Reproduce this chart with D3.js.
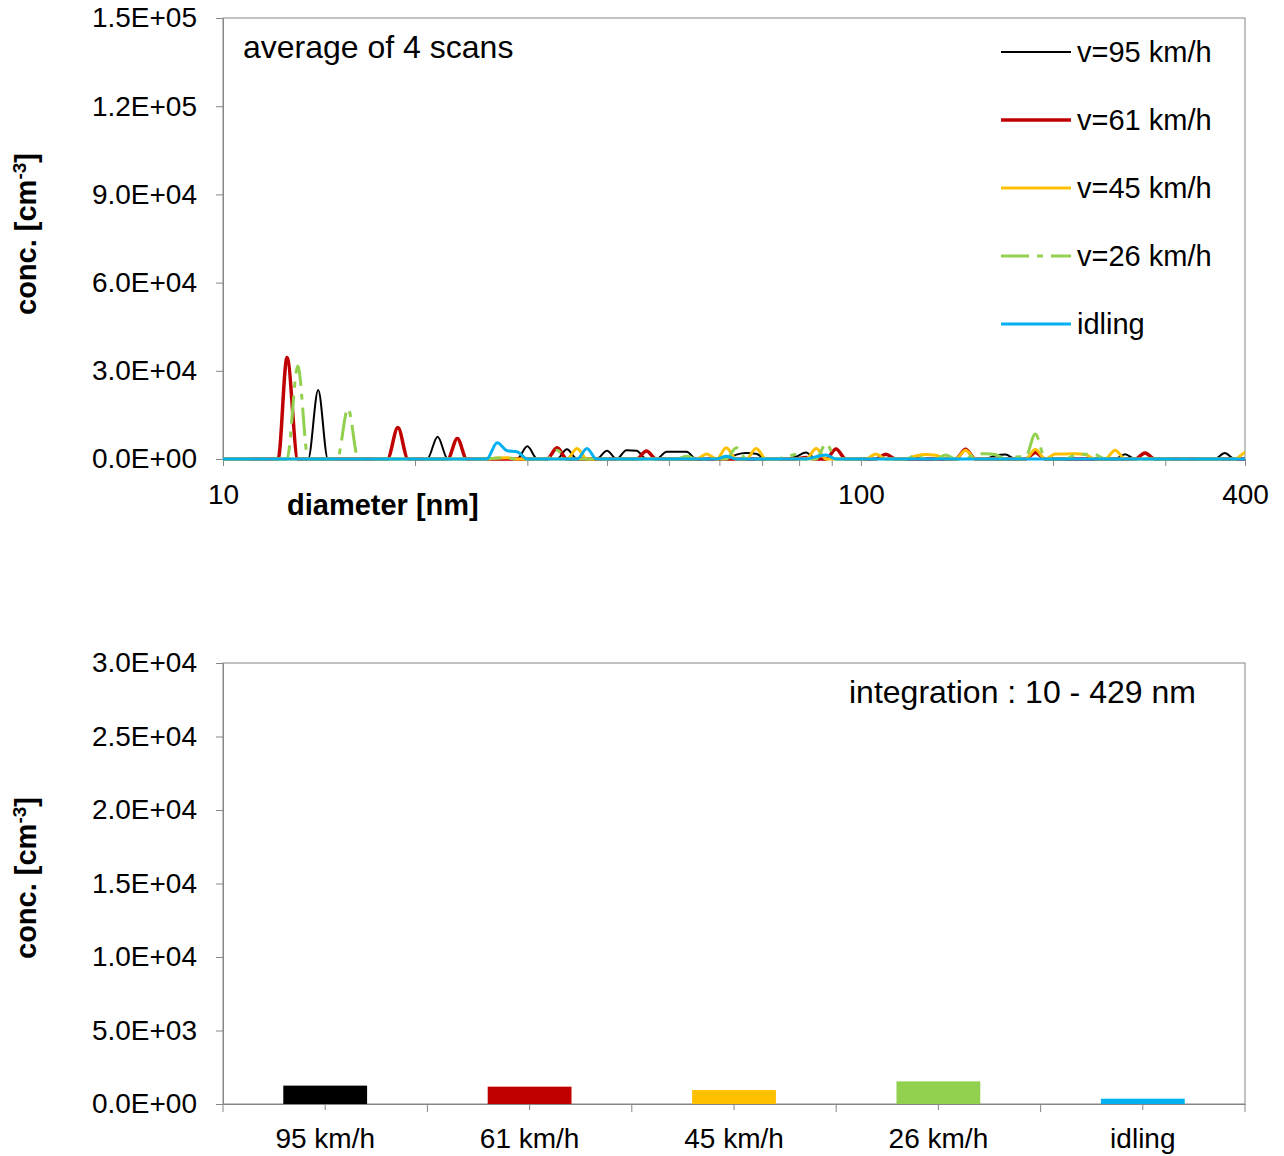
<!DOCTYPE html>
<html>
<head>
<meta charset="utf-8">
<script src="https://cdn.jsdelivr.net/npm/d3@7"></script>
<style>
body { margin: 0; background: #fff; }
text { font-family: "Liberation Sans", Arial, sans-serif; fill: #000; }
</style>
</head>
<body>
<script>
// mobility diameters of the scanner channels [nm]
var diameters = [
  10.0, 10.4, 10.7, 11.1, 11.5, 11.8, 12.2, 12.6, 13.1, 13.6,
  14.1, 14.6, 15.1, 15.7, 16.3, 16.8, 17.5, 18.1, 18.8, 19.5,
  20.2, 20.9, 21.7, 22.5, 23.3, 24.1, 25.0, 25.9, 26.9, 27.9,
  28.9, 30.0, 31.1, 32.2, 33.4, 34.6, 35.9, 37.2, 38.5, 40.0,
  41.4, 42.9, 44.5, 46.1, 47.8, 49.6, 51.4, 53.3, 55.2, 57.3,
  59.4, 61.5, 63.8, 66.1, 68.5, 71.0, 73.7, 76.4, 79.1, 82.0,
  85.1, 88.2, 91.4, 94.7, 98.2, 101.8, 105.5, 109.4, 113.4, 117.6,
  121.9, 126.3, 131.0, 135.8, 140.7, 145.9, 151.2, 156.8, 162.5, 168.5,
  174.7, 181.1, 187.7, 194.6, 201.7, 209.1, 216.7, 224.7, 232.9, 241.4,
  250.3, 259.5, 269.0, 278.8, 289.0, 299.6, 310.6, 322.0, 333.8, 346.0,
  358.7, 371.8, 385.4, 399.5, 414.2, 429.4
];

var conc95 = [
  0, 0, 0, 0, 0, 0, 0, 0, 0, 0,
  23500, 0, 0, 0, 0, 0, 0, 0, 0, 0,
  0, 0, 7600, 0, 0, 0, 0, 0, 0, 0,
  0, 4300, 0, 0, 0, 3300, 0, 0, 0, 2800,
  0, 3000, 2800, 0, 0, 2500, 2500, 2500, 0, 0,
  0, 0, 1500, 2000, 1800, 0, 0, 0, 800, 2200,
  0, 0, 0, 0, 0, 0, 0, 0, 0, 0,
  0, 0, 0, 0, 0, 0, 0, 0, 1200, 1500,
  0, 0, 0, 0, 0, 0, 0, 0, 0, 0,
  0, 1600, 0, 0, 0, 0, 0, 0, 0, 0,
  0, 2000, 0, 0, 0, 0
];
var conc61 = [
  0, 0, 0, 0, 0, 0, 0, 34500, 0, 0,
  0, 0, 0, 0, 0, 0, 0, 0, 10700, 0,
  0, 0, 0, 0, 7000, 0, 0, 0, 0, 0,
  0, 0, 0, 0, 3800, 0, 0, 0, 0, 0,
  0, 0, 0, 2700, 0, 0, 0, 0, 0, 0,
  0, 0, 0, 0, 0, 0, 0, 0, 0, 500,
  0, 0, 3400, 0, 0, 0, 0, 1600, 0, 0,
  0, 0, 0, 0, 0, 3300, 0, 0, 0, 0,
  0, 0, 2200, 0, 0, 0, 0, 0, 0, 0,
  0, 0, 0, 2000, 0, 0, 0, 0, 0, 0,
  0, 0, 0, 0, 0, 0
];
var conc45 = [
  0, 0, 0, 0, 0, 0, 0, 0, 0, 0,
  0, 0, 0, 0, 0, 0, 0, 0, 0, 0,
  0, 0, 0, 0, 0, 0, 0, 0, 300, 400,
  0, 0, 0, 0, 0, 0, 3600, 0, 0, 0,
  0, 0, 0, 0, 0, 0, 0, 0, 0, 1700,
  0, 3800, 0, 0, 3600, 0, 0, 0, 0, 0,
  3600, 0, 0, 0, 0, 0, 1700, 0, 0, 0,
  1000, 1500, 1300, 0, 0, 3000, 0, 0, 0, 0,
  0, 0, 3200, 0, 1700, 1700, 1800, 1500, 0, 0,
  3000, 0, 0, 0, 0, 0, 0, 0, 0, 0,
  0, 0, 0, 2200, 3500, 0
];
var conc26 = [
  0, 0, 0, 0, 0, 0, 0, 0, 31600, 0,
  0, 0, 0, 17200, 0, 0, 0, 0, 0, 0,
  0, 0, 0, 0, 0, 0, 0, 0, 300, 300,
  0, 0, 0, 0, 3000, 0, 0, 0, 0, 0,
  0, 0, 0, 0, 0, 0, 0, 900, 0, 0,
  0, 0, 3800, 0, 0, 0, 0, 800, 1500, 0,
  0, 5300, 0, 0, 0, 0, 0, 0, 0, 0,
  1200, 0, 0, 1400, 0, 0, 1700, 1800, 1500, 0,
  700, 800, 8500, 0, 0, 0, 1400, 1600, 1500, 0,
  0, 0, 0, 0, 0, 0, 0, 0, 0, 0,
  0, 0, 0, 0, 0, 0
];
var concIdle = [
  0, 0, 0, 0, 0, 0, 0, 0, 0, 0,
  0, 0, 0, 0, 0, 0, 0, 0, 0, 0,
  0, 0, 0, 0, 0, 0, 0, 0, 5500, 2800,
  2500, 0, 0, 0, 0, 0, 0, 3600, 0, 0,
  0, 0, 0, 0, 0, 0, 0, 0, 0, 0,
  0, 900, 0, 0, 0, 0, 0, 0, 0, 0,
  800, 1400, 0, 0, 0, 0, 0, 0, 0, 0,
  0, 0, 0, 0, 0, 0, 0, 0, 0, 0,
  0, 0, 0, 0, 0, 0, 0, 0, 0, 0,
  0, 0, 0, 0, 0, 0, 0, 0, 0, 0,
  0, 0, 0, 0, 0, 0
];

var seriesNames = ["v=95 km/h", "v=61 km/h", "v=45 km/h", "v=26 km/h", "idling"];
var seriesValues = [conc95, conc61, conc45, conc26, concIdle];
var seriesColors = ["#000000", "#C00000", "#FFC000", "#92D050", "#00B0F0"];
var seriesWidths = [2, 3.5, 3, 3, 3];
var seriesDash = [null, null, null, "28,8,6,8", null];

var barCategories = ["95 km/h", "61 km/h", "45 km/h", "26 km/h", "idling"];
var barValues = [1250, 1180, 950, 1540, 360];

var topYTicks = [0, 30000, 60000, 90000, 120000, 150000];
var bottomYTicks = [0, 5000, 10000, 15000, 20000, 25000, 30000];
var xLabelTicks = [10, 100, 400];
var xMinorTicks = [20, 30, 40, 50, 60, 70, 80, 90, 200, 300];

var width = 1284,
    height = 1156,
    axisGrey = "#868686";

var svg = d3.select("body").append("svg")
    .attr("width", width)
    .attr("height", height);

// 0.0E+00 style labels like the spreadsheet
function sci(v) {
    if (v === 0) return "0.0E+00";
    var e = Math.floor(Math.log10(v));
    var m = v / Math.pow(10, e);
    return m.toFixed(1) + "E+" + (e < 10 ? "0" : "") + e;
}

function yTitle(g, cx, cy) {
    var t = g.append("text")
        .attr("transform", "translate(" + cx + "," + cy + ") rotate(-90)")
        .attr("text-anchor", "middle")
        .style("font-size", "29px")
        .style("font-weight", "bold");
    t.append("tspan").text("conc. [cm");
    t.append("tspan").attr("dy", "-10").style("font-size", "19px").text("-3");
    t.append("tspan").attr("dy", "10").text("]");
}

function styleAxis(g) {
    g.select(".domain").attr("stroke", axisGrey);
    g.selectAll(".tick line").attr("stroke", axisGrey);
    g.selectAll(".tick text").style("font-size", "28px").attr("fill", "#000");
}

// ---------- top chart: size distributions ----------
var box1 = { left: 223, right: 1245, top: 18, bottom: 459 };

var x = d3.scaleLog()
    .domain([10, 400])
    .range([box1.left, box1.right]);

var y = d3.scaleLinear()
    .domain([0, 150000])
    .range([box1.bottom, box1.top]);

svg.append("rect")
    .attr("x", box1.left).attr("y", box1.top)
    .attr("width", box1.right - box1.left).attr("height", box1.bottom - box1.top)
    .attr("fill", "none").attr("stroke", axisGrey);

svg.append("g")
    .attr("transform", "translate(" + box1.left + ",0)")
    .call(d3.axisLeft(y).tickValues(topYTicks).tickFormat(sci).tickSize(7).tickPadding(19).tickSizeOuter(0))
    .call(styleAxis);

svg.append("g")
    .attr("transform", "translate(0," + box1.bottom + ")")
    .call(d3.axisBottom(x).tickValues(xLabelTicks.concat(xMinorTicks))
        .tickFormat(function(d) { return xLabelTicks.indexOf(d) >= 0 ? d : ""; })
        .tickSize(7).tickPadding(18).tickSizeOuter(0))
    .call(styleAxis);

svg.append("clipPath").attr("id", "plotclip")
    .append("rect")
    .attr("x", box1.left).attr("y", 0)
    .attr("width", box1.right - box1.left).attr("height", box1.bottom + 12);

var line = d3.line()
    .x(function(d) { return x(d[0]); })
    .y(function(d) { return y(d[1]); })
    .curve(d3.curveMonotoneX);

svg.append("g")
    .attr("clip-path", "url(#plotclip)")
    .selectAll("path")
    .data(seriesValues)
    .enter()
    .append("path")
    .attr("d", function(vals) { return line(diameters.map(function(d, i) { return [d, vals[i]]; })); })
    .attr("fill", "none")
    .attr("stroke", function(d, i) { return seriesColors[i]; })
    .attr("stroke-width", function(d, i) { return seriesWidths[i]; })
    .attr("stroke-dasharray", function(d, i) { return seriesDash[i]; })
    .attr("stroke-linejoin", "round");

// legend
var legend = svg.append("g")
    .selectAll("g")
    .data(seriesNames)
    .enter()
    .append("g")
    .attr("transform", function(d, i) { return "translate(1001," + (52 + i * 68) + ")"; });

legend.append("line")
    .attr("x1", 0).attr("x2", 70)
    .attr("stroke", function(d, i) { return seriesColors[i]; })
    .attr("stroke-width", function(d, i) { return seriesWidths[i]; })
    .attr("stroke-dasharray", function(d, i) { return seriesDash[i]; });

legend.append("text")
    .attr("x", 76).attr("dy", "0.36em")
    .style("font-size", "29px")
    .text(function(d) { return d; });

svg.append("text")
    .attr("x", 243).attr("y", 58)
    .style("font-size", "32px")
    .text("average of 4 scans");

svg.append("text")
    .attr("x", 287).attr("y", 515)
    .style("font-size", "29px")
    .style("font-weight", "bold")
    .text("diameter [nm]");

yTitle(svg, 36, 234);

// ---------- bottom chart: integrated concentration ----------
var box2 = { left: 223, right: 1245, top: 663, bottom: 1104 };

var xb = d3.scaleBand()
    .domain(barCategories)
    .range([box2.left, box2.right]);

var yb = d3.scaleLinear()
    .domain([0, 30000])
    .range([box2.bottom, box2.top]);

svg.append("rect")
    .attr("x", box2.left).attr("y", box2.top)
    .attr("width", box2.right - box2.left).attr("height", box2.bottom - box2.top)
    .attr("fill", "none").attr("stroke", axisGrey);

svg.append("g")
    .attr("transform", "translate(" + box2.left + ",0)")
    .call(d3.axisLeft(yb).tickValues(bottomYTicks).tickFormat(sci).tickSize(7).tickPadding(19).tickSizeOuter(0))
    .call(styleAxis);

var barW = xb.bandwidth() * 0.41;

svg.append("g")
    .selectAll("rect")
    .data(barValues)
    .enter()
    .append("rect")
    .attr("x", function(d, i) { return xb(barCategories[i]) + (xb.bandwidth() - barW) / 2; })
    .attr("y", function(d) { return yb(d); })
    .attr("width", barW)
    .attr("height", function(d) { return box2.bottom - yb(d); })
    .attr("fill", function(d, i) { return seriesColors[i]; });

var xAxisB = svg.append("g")
    .attr("transform", "translate(0," + box2.bottom + ")")
    .call(d3.axisBottom(xb).tickSize(6).tickPadding(18).tickSizeOuter(0))
    .call(styleAxis);

// category boundary ticks
var bounds = barCategories.map(function(c) { return xb(c); }).concat([box2.right]);
xAxisB.selectAll(".bound")
    .data(bounds)
    .enter()
    .append("line")
    .attr("class", "bound")
    .attr("x1", function(d) { return d; }).attr("x2", function(d) { return d; })
    .attr("y1", 0).attr("y2", 8)
    .attr("stroke", axisGrey);

svg.append("text")
    .attr("x", 849).attr("y", 703)
    .style("font-size", "32px")
    .text("integration : 10 - 429 nm");

yTitle(svg, 36, 878);
</script>
</body>
</html>
